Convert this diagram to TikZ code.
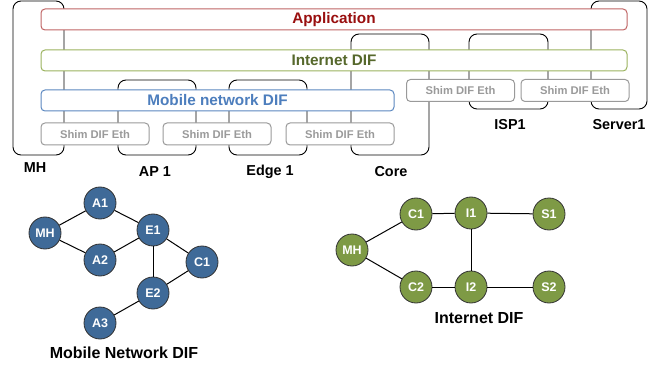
\documentclass[tikz,border=0pt]{standalone}
\usepackage{fontspec}
\setmainfont{Liberation Sans}
\definecolor{appred}{HTML}{C06565}
\definecolor{apptext}{HTML}{990F0F}
\definecolor{inetgreen}{HTML}{9BB35F}
\definecolor{inettext}{HTML}{56682C}
\definecolor{mobblue}{HTML}{5B87C0}
\definecolor{mobtext}{HTML}{4D7EBD}
\definecolor{shimgray}{HTML}{9A9A9A}
\definecolor{nodeblue}{HTML}{3F6A98}
\definecolor{nodegreen}{HTML}{7E9A45}
\begin{document}
\begin{tikzpicture}
[x=1pt,y=-1pt,
  devbox/.style={shape=rectangle,rounded corners=8pt,draw=black,line width=0.9pt,inner sep=0pt},%
  difbar/.style={shape=rectangle,rounded corners=4pt,line width=1pt,fill=white,inner sep=0pt,minimum height=21pt,font=\bfseries\fontsize{15.3}{16}\selectfont},%
  shimbox/.style={shape=rectangle,rounded corners=4pt,draw=shimgray,line width=1pt,fill=white,inner sep=0pt,
    minimum width=108pt,minimum height=22pt,text=shimgray,font=\bfseries\fontsize{11.2}{12}\selectfont},%
  devlabel/.style={font=\bfseries\fontsize{14.4}{15}\selectfont},%
  graphlabel/.style={font=\bfseries\fontsize{16}{17}\selectfont},%
  nodedecorate/.style={shape=circle,inner sep=0pt,minimum size=32pt,draw=black!80,line width=0.8pt,
    text=white,font=\bfseries\fontsize{12.5}{13}\selectfont},%
  linedecorate/.style={-,line width=1pt}]
\useasboundingbox (0,0) rectangle (658,366);
%% devices
\node (mhbox) at (38.5,78) [devbox,minimum width=51pt,minimum height=154pt] {};
\node (apbox) at (157,117.5) [devbox,minimum width=78pt,minimum height=75pt] {};
\node (edgebox) at (268,117.5) [devbox,minimum width=78pt,minimum height=75pt] {};
\node (corebox) at (390,94.5) [devbox,minimum width=78pt,minimum height=121pt] {};
\node (ispbox) at (508.5,71.5) [devbox,minimum width=79pt,minimum height=75pt] {};
\node (srvbox) at (619,55) [devbox,minimum width=56pt,minimum height=108pt] {};
%% DIF layers
\node (app) at (334,19.5) [difbar,draw=appred,text=apptext,minimum width=586pt] {Application};
\node (inet) at (334,60.5) [difbar,draw=inetgreen,text=inettext,minimum width=586pt] {Internet DIF};
\node (mob) at (217.5,100.5) [difbar,draw=mobblue,text=mobtext,minimum width=353pt] {Mobile network DIF};
\node (shim1) at (95,134) [shimbox] {Shim DIF Eth};
\node (shim2) at (217,134) [shimbox] {Shim DIF Eth};
\node (shim3) at (340,134) [shimbox] {Shim DIF Eth};
\node (shim4) at (460.5,90.5) [shimbox] {Shim DIF Eth};
\node (shim5) at (575,90.5) [shimbox] {Shim DIF Eth};
%% device names
\node (mhname) at (35,168) [devlabel] {MH};
\node (apname) at (155,172) [devlabel] {AP 1};
\node (edgename) at (270,172) [devlabel] {Edge 1};
\node (corename) at (391,172) [devlabel] {Core};
\node (ispname) at (510,125) [devlabel] {ISP1};
\node (srvname) at (619,125) [devlabel] {Server1};
%% mobile network DIF graph
\node (mh) at (45,233) [nodedecorate,fill=nodeblue] {MH};
\node (a1) at (100,203) [nodedecorate,fill=nodeblue] {A1};
\node (a2) at (100,260) [nodedecorate,fill=nodeblue] {A2};
\node (e1) at (153,230) [nodedecorate,fill=nodeblue] {E1};
\node (c1) at (202,262) [nodedecorate,fill=nodeblue] {C1};
\node (e2) at (153,293) [nodedecorate,fill=nodeblue] {E2};
\node (a3) at (100,323) [nodedecorate,fill=nodeblue] {A3};
\node (mobname) at (124,353) [graphlabel] {Mobile Network DIF};
\path
(mh) edge[linedecorate] (a1)
(mh) edge[linedecorate] (a2)
(a1) edge[linedecorate] (e1)
(a2) edge[linedecorate] (e1)
(e1) edge[linedecorate] (e2)
(e1) edge[linedecorate] (c1)
(c1) edge[linedecorate] (e2)
(e2) edge[linedecorate] (a3);
%% internet DIF graph
\node (imh) at (352,250) [nodedecorate,fill=nodegreen] {MH};
\node (ic1) at (416,214) [nodedecorate,fill=nodegreen] {C1};
\node (ii1) at (471,213) [nodedecorate,fill=nodegreen] {I1};
\node (is1) at (549,214) [nodedecorate,fill=nodegreen] {S1};
\node (ic2) at (416,287) [nodedecorate,fill=nodegreen] {C2};
\node (ii2) at (471,287) [nodedecorate,fill=nodegreen] {I2};
\node (is2) at (549,287) [nodedecorate,fill=nodegreen] {S2};
\node (inetname) at (479,318) [graphlabel] {Internet DIF};
\path
(imh) edge[linedecorate] (ic1)
(imh) edge[linedecorate] (ic2)
(ic1) edge[linedecorate] (ii1)
(ii1) edge[linedecorate] (is1)
(ii1) edge[linedecorate] (ii2)
(ic2) edge[linedecorate] (ii2)
(ii2) edge[linedecorate] (is2);
\end{tikzpicture}
\end{document}
